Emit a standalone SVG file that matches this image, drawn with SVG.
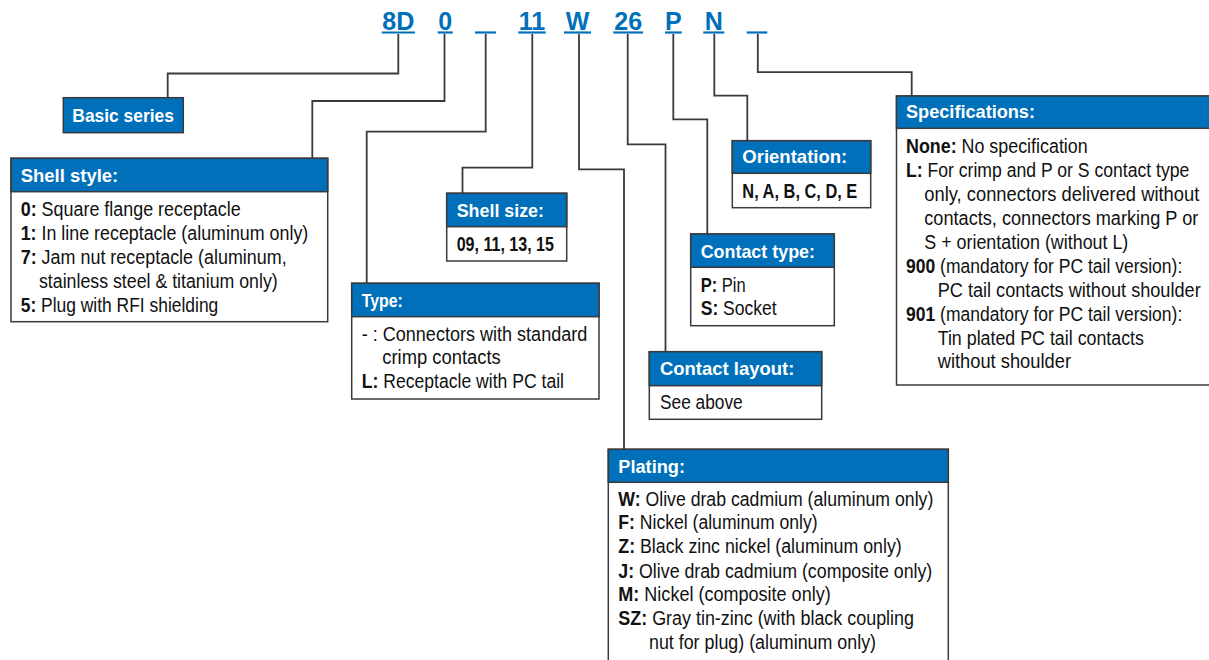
<svg xmlns="http://www.w3.org/2000/svg" width="1209" height="660" viewBox="0 0 1209 660">
<style>
.code{font-family:"Liberation Sans",Arial,sans-serif;font-weight:bold;font-size:25px;fill:#0070BA;text-anchor:middle}
.ul{stroke:#0070BA;stroke-width:2.2}
.ln{fill:none;stroke:#3a3a3a;stroke-width:1.8}
.box{fill:#fff;stroke:#3a3a3a;stroke-width:1.5}
.hdr{fill:#0070BA;stroke:#3a3a3a;stroke-width:1.5}
.ht{font-family:"Liberation Sans",Arial,sans-serif;font-weight:bold;font-size:18.5px;fill:#fff}
.bt{font-family:"Liberation Sans",Arial,sans-serif;font-size:19.5px;fill:#111}
.b{font-weight:bold}
</style>
<g id="code">
<text class="code" x="398.3" y="29.5">8D</text>
<text class="code" x="445.2" y="29.5">0</text>
<text class="code" x="532" y="29.5">11</text>
<text class="code" x="577.5" y="29.5">W</text>
<text class="code" x="628.2" y="29.5">26</text>
<text class="code" x="673.3" y="29.5">P</text>
<text class="code" x="713.8" y="29.5">N</text>
<line class="ul" x1="381.7" y1="32.5" x2="415" y2="32.5"/>
<line class="ul" x1="437.7" y1="32.5" x2="452.7" y2="32.5"/>
<line class="ul" x1="475" y1="32.5" x2="496" y2="32.5"/>
<line class="ul" x1="518.3" y1="32.5" x2="545.7" y2="32.5"/>
<line class="ul" x1="564" y1="32.5" x2="591" y2="32.5"/>
<line class="ul" x1="613.3" y1="32.5" x2="643" y2="32.5"/>
<line class="ul" x1="665" y1="32.5" x2="681.7" y2="32.5"/>
<line class="ul" x1="703.3" y1="32.5" x2="724.3" y2="32.5"/>
<line class="ul" x1="746.7" y1="32.5" x2="767.3" y2="32.5"/>
</g>
<g id="connectors">
<polyline class="ln" points="398.3,34 398.3,73.5 167.7,73.5 167.7,97.5"/>
<polyline class="ln" points="444.5,34 444.5,101 312.3,101 312.3,158.5"/>
<polyline class="ln" points="485.7,34 485.7,131.7 366.7,131.7 366.7,283.5"/>
<polyline class="ln" points="532.3,34 532.3,167.7 462.5,167.7 462.5,193.5"/>
<polyline class="ln" points="579,34 579,169.3 624,169.3 624,449.5"/>
<polyline class="ln" points="627.7,34 627.7,144.3 665.5,144.3 665.5,352"/>
<polyline class="ln" points="673.3,34 673.3,119.3 707.3,119.3 707.3,234"/>
<polyline class="ln" points="714.3,34 714.3,95.7 747.3,95.7 747.3,140.7"/>
<polyline class="ln" points="757.8,34 757.8,72.2 911.7,72.2 911.7,96"/>
</g>
<g id="basic-series">
<rect class="hdr" x="63.3" y="97.7" width="120" height="35"/>
<text class="ht" x="72.3" y="121.5" textLength="101.7" lengthAdjust="spacingAndGlyphs">Basic series</text>
</g>
<g id="shell-style">
<rect class="box" x="11" y="158.3" width="316.7" height="163.4"/>
<rect class="hdr" x="11" y="158.3" width="316.7" height="33.4"/>
<text class="ht" x="20.7" y="181.7" textLength="97.6" lengthAdjust="spacingAndGlyphs">Shell style:</text>
<text class="bt" x="20.7" y="215.7" textLength="220" lengthAdjust="spacingAndGlyphs"><tspan class="b">0:</tspan> Square flange receptacle</text>
<text class="bt" x="20.7" y="240" textLength="287.6" lengthAdjust="spacingAndGlyphs"><tspan class="b">1:</tspan> In line receptacle (aluminum only)</text>
<text class="bt" x="20.7" y="263.5" textLength="266" lengthAdjust="spacingAndGlyphs"><tspan class="b">7:</tspan> Jam nut receptacle (aluminum,</text>
<text class="bt" x="39" y="287.7" textLength="238.7" lengthAdjust="spacingAndGlyphs">stainless steel &amp; titanium only)</text>
<text class="bt" x="20.7" y="311.7" textLength="197.6" lengthAdjust="spacingAndGlyphs"><tspan class="b">5:</tspan> Plug with RFI shielding</text>
</g>
<g id="type">
<rect class="box" x="351.7" y="283.3" width="247.3" height="115.7"/>
<rect class="hdr" x="351.7" y="283.3" width="247.3" height="33.4"/>
<text class="ht" x="361.7" y="306.7" textLength="41" lengthAdjust="spacingAndGlyphs">Type:</text>
<text class="bt" x="361.7" y="341" textLength="225.6" lengthAdjust="spacingAndGlyphs">- : Connectors with standard</text>
<text class="bt" x="382.3" y="364.3" textLength="118.4" lengthAdjust="spacingAndGlyphs">crimp contacts</text>
<text class="bt" x="361.7" y="388.3" textLength="202.3" lengthAdjust="spacingAndGlyphs"><tspan class="b">L:</tspan> Receptacle with PC tail</text>
</g>
<g id="shell-size">
<rect class="box" x="446.7" y="193.3" width="120" height="67.7"/>
<rect class="hdr" x="446.7" y="193.3" width="120" height="33.4"/>
<text class="ht" x="456.7" y="216.7" textLength="87.3" lengthAdjust="spacingAndGlyphs">Shell size:</text>
<text class="bt b" x="456.7" y="251" textLength="97.3" lengthAdjust="spacingAndGlyphs">09, 11, 13, 15</text>
</g>
<g id="orientation">
<rect class="box" x="732.3" y="140.7" width="138.4" height="67"/>
<rect class="hdr" x="732.3" y="140.7" width="138.4" height="32.6"/>
<text class="ht" x="742.3" y="163.3" textLength="105" lengthAdjust="spacingAndGlyphs">Orientation:</text>
<text class="bt b" x="742.3" y="197.7" textLength="115" lengthAdjust="spacingAndGlyphs">N, A, B, C, D, E</text>
</g>
<g id="contact-type">
<rect class="box" x="690.7" y="234" width="143.6" height="91.7"/>
<rect class="hdr" x="690.7" y="234" width="143.6" height="33.3"/>
<text class="ht" x="700.7" y="258.3" textLength="114.3" lengthAdjust="spacingAndGlyphs">Contact type:</text>
<text class="bt" x="700.7" y="291.7" textLength="45" lengthAdjust="spacingAndGlyphs"><tspan class="b">P:</tspan> Pin</text>
<text class="bt" x="700.7" y="315" textLength="76" lengthAdjust="spacingAndGlyphs"><tspan class="b">S:</tspan> Socket</text>
</g>
<g id="contact-layout">
<rect class="box" x="649.3" y="351.7" width="172.4" height="67.6"/>
<rect class="hdr" x="649.3" y="351.7" width="172.4" height="34"/>
<text class="ht" x="660" y="375" textLength="134.3" lengthAdjust="spacingAndGlyphs">Contact layout:</text>
<text class="bt" x="660" y="409.3" textLength="82.7" lengthAdjust="spacingAndGlyphs">See above</text>
</g>
<g id="specifications">
<rect class="box" x="896.5" y="96" width="320" height="289"/>
<rect class="hdr" x="896.5" y="96" width="320" height="32.3"/>
<text class="ht" x="906" y="118.3" textLength="129" lengthAdjust="spacingAndGlyphs">Specifications:</text>
<text class="bt" x="906" y="153.3" textLength="181.7" lengthAdjust="spacingAndGlyphs"><tspan class="b">None:</tspan> No specification</text>
<text class="bt" x="906" y="177.3" textLength="283.3" lengthAdjust="spacingAndGlyphs"><tspan class="b">L:</tspan> For crimp and P or S contact type</text>
<text class="bt" x="924.3" y="201" textLength="275" lengthAdjust="spacingAndGlyphs">only, connectors delivered without</text>
<text class="bt" x="924.3" y="225" textLength="274" lengthAdjust="spacingAndGlyphs">contacts, connectors marking P or</text>
<text class="bt" x="924.3" y="249.3" textLength="204" lengthAdjust="spacingAndGlyphs">S + orientation (without L)</text>
<text class="bt" x="906" y="273.3" textLength="276.3" lengthAdjust="spacingAndGlyphs"><tspan class="b">900</tspan> (mandatory for PC tail version):</text>
<text class="bt" x="937.7" y="296.7" textLength="263" lengthAdjust="spacingAndGlyphs">PC tail contacts without shoulder</text>
<text class="bt" x="906" y="321" textLength="276.3" lengthAdjust="spacingAndGlyphs"><tspan class="b">901</tspan> (mandatory for PC tail version):</text>
<text class="bt" x="937.7" y="345" textLength="206.3" lengthAdjust="spacingAndGlyphs">Tin plated PC tail contacts</text>
<text class="bt" x="937.7" y="368.3" textLength="133.3" lengthAdjust="spacingAndGlyphs">without shoulder</text>
</g>
<g id="plating">
<rect class="box" x="608.3" y="449.3" width="340" height="230"/>
<rect class="hdr" x="608.3" y="449.3" width="340" height="33"/>
<text class="ht" x="618.3" y="473.3" textLength="66.7" lengthAdjust="spacingAndGlyphs">Plating:</text>
<text class="bt" x="618.3" y="506" textLength="315" lengthAdjust="spacingAndGlyphs"><tspan class="b">W:</tspan> Olive drab cadmium (aluminum only)</text>
<text class="bt" x="618.3" y="529.3" textLength="199.4" lengthAdjust="spacingAndGlyphs"><tspan class="b">F:</tspan> Nickel (aluminum only)</text>
<text class="bt" x="618.3" y="553.3" textLength="283.4" lengthAdjust="spacingAndGlyphs"><tspan class="b">Z:</tspan> Black zinc nickel (aluminum only)</text>
<text class="bt" x="618.3" y="577.7" textLength="314" lengthAdjust="spacingAndGlyphs"><tspan class="b">J:</tspan> Olive drab cadmium (composite only)</text>
<text class="bt" x="618.3" y="601" textLength="212.4" lengthAdjust="spacingAndGlyphs"><tspan class="b">M:</tspan> Nickel (composite only)</text>
<text class="bt" x="618.3" y="625" textLength="295.7" lengthAdjust="spacingAndGlyphs"><tspan class="b">SZ:</tspan> Gray tin-zinc (with black coupling</text>
<text class="bt" x="649" y="649.3" textLength="227" lengthAdjust="spacingAndGlyphs">nut for plug) (aluminum only)</text>
</g>
</svg>
